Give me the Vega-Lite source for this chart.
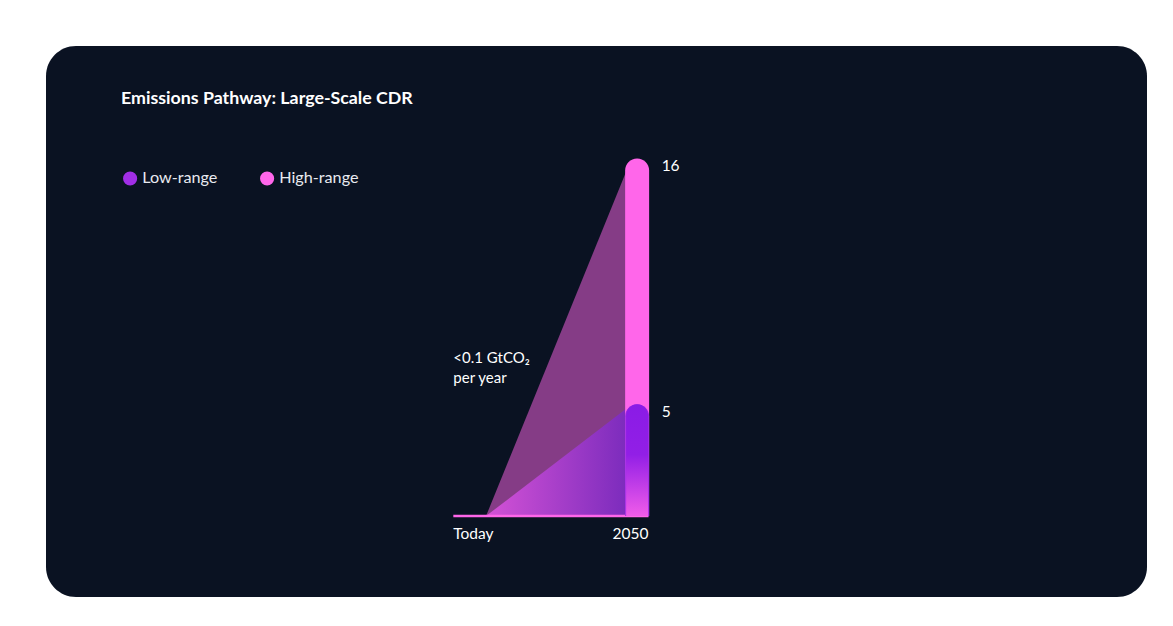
{
  "$schema": "https://vega.github.io/schema/vega-lite/v6.json",
  "width": 1101,
  "height": 551,
  "autosize": {"type": "none"},
  "padding": {"left": 46, "top": 46, "right": 26, "bottom": 29},
  "background": "#ffffff",
  "config": {
    "view": {"fill": "#0a1222", "stroke": null, "cornerRadius": 30},
    "font": "Lato"
  },
  "title": {
    "text": "Emissions Pathway: Large-Scale CDR",
    "anchor": "start",
    "frame": "group",
    "orient": "top",
    "offset": 0,
    "dx": 75,
    "dy": 71,
    "baseline": "middle",
    "fontSize": 17.8,
    "fontWeight": "bold",
    "color": "#ffffff",
    "font": "Lato"
  },
  "datasets": {
    "tri": [
      {"series": "High-range", "pos": 17.8, "value": 0},
      {"series": "High-range", "pos": 94, "value": 15.4},
      {"series": "Low-range", "pos": 17.8, "value": 0},
      {"series": "Low-range", "pos": 94, "value": 4.8}
    ],
    "bars": [
      {"series": "High-range", "pos": 100, "value": 16},
      {"series": "Low-range", "pos": 100, "value": 5}
    ],
    "baseline": [{"pos": 0, "pos2": 106.2, "value": 0}],
    "xlabels": [
      {"label": "Today", "pos": 0, "value": 0},
      {"label": "2050", "pos": 106.2, "value": 0}
    ],
    "note": [{"pos": 0, "value": 7.37, "text": "<0.1 GtCO₂\nper year"}]
  },
  "encoding": {
    "x": {"field": "pos", "type": "quantitative", "axis": null,
          "scale": {"domain": [-218.87, 374.66], "nice": false, "zero": false}},
    "y": {"field": "value", "type": "quantitative", "axis": null, "stack": null,
          "scale": {"domain": [-3.624, 21.029], "nice": false, "zero": false}}
  },
  "layer": [
    {
      "data": {"name": "tri"},
      "transform": [{"filter": "datum.series === 'High-range'"}],
      "mark": {"type": "area", "color": "#ff66ea", "opacity": 0.5},
      "encoding": {"y2": {"datum": 0}}
    },
    {
      "data": {"name": "tri"},
      "transform": [{"filter": "datum.series === 'Low-range'"}],
      "mark": {"type": "area", "opacity": 1,
        "color": {"gradient": "linear", "x1": 0, "y1": 0, "x2": 1, "y2": 0,
          "stops": [{"offset": 0, "color": "#d452d6"}, {"offset": 1, "color": "#7c2cbd"}]}},
      "encoding": {"y2": {"datum": 0}}
    },
    {
      "data": {"name": "baseline"},
      "mark": {"type": "rule", "color": "#ff66ea", "strokeWidth": 2.5},
      "encoding": {"x2": {"field": "pos2"}}
    },
    {
      "data": {"name": "bars"},
      "mark": {"type": "bar", "size": 24, "cornerRadiusTopLeft": 12, "cornerRadiusTopRight": 12},
      "encoding": {
        "y2": {"datum": 0},
        "color": {
          "field": "series", "type": "nominal",
          "scale": {"domain": ["Low-range", "High-range"], "range": ["#a12ee6", "#ff66ea"]},
          "legend": {
            "orient": "none", "legendX": 76, "legendY": 124, "direction": "horizontal",
            "title": null, "symbolType": "circle", "symbolSize": 200, "symbolStrokeWidth": 0,
            "labelFontSize": 16.2, "labelColor": "#e8eaf0", "labelFont": "Lato",
            "columnPadding": 41, "labelOffset": 4, "padding": 0
          }
        }
      }
    },
    {
      "data": {"name": "bars"},
      "transform": [{"filter": "datum.series === 'Low-range'"}],
      "mark": {"type": "bar", "size": 22, "cornerRadiusTopLeft": 11, "cornerRadiusTopRight": 11,
        "color": {"gradient": "linear", "x1": 0, "y1": 0, "x2": 0, "y2": 1,
          "stops": [{"offset": 0, "color": "#8a1be6"}, {"offset": 0.45, "color": "#921fe6"}, {"offset": 1, "color": "#f05ce9"}]}},
      "encoding": {"y2": {"datum": 0}}
    },
    {
      "data": {"name": "bars"},
      "mark": {"type": "text", "align": "left", "baseline": "middle", "dx": 24.5, "dy": 7.5,
               "fontSize": 15.5, "color": "#ffffff", "font": "Lato"},
      "encoding": {"text": {"field": "value"}}
    },
    {
      "data": {"name": "xlabels"},
      "transform": [{"filter": "datum.label === 'Today'"}],
      "mark": {"type": "text", "align": "left", "baseline": "middle", "dy": 17.5,
               "fontSize": 15.5, "color": "#ffffff", "font": "Lato"},
      "encoding": {"text": {"field": "label"}}
    },
    {
      "data": {"name": "xlabels"},
      "transform": [{"filter": "datum.label === '2050'"}],
      "mark": {"type": "text", "align": "right", "baseline": "middle", "dy": 17.5,
               "fontSize": 15.5, "color": "#ffffff", "font": "Lato"},
      "encoding": {"text": {"field": "label"}}
    },
    {
      "data": {"name": "note"},
      "mark": {"type": "text", "align": "left", "baseline": "top", "lineBreak": "\n",
               "lineHeight": 20, "fontSize": 15, "color": "#ffffff", "font": "Lato"},
      "encoding": {"text": {"field": "text"}}
    }
  ]
}
